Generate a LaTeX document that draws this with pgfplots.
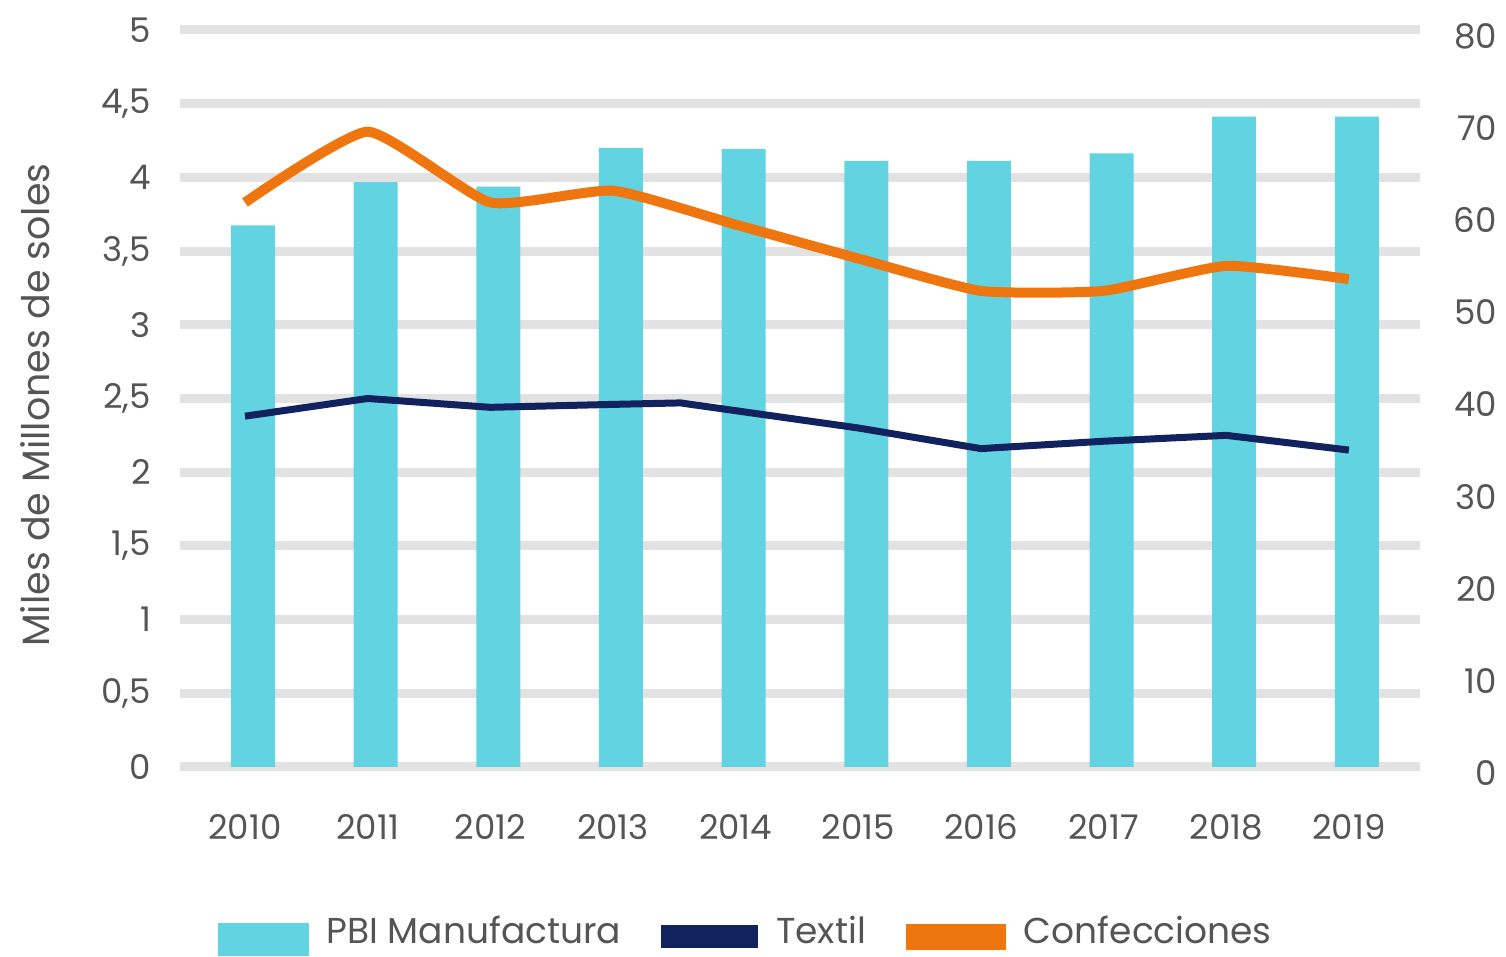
\documentclass[border=0pt]{standalone}
\usepackage{pgfplots}
\pgfplotsset{compat=1.18}
\usepackage{fontspec}
\setmainfont{Poppins}
\definecolor{barc}{HTML}{62D3E0}
\definecolor{navy}{HTML}{12225F}
\definecolor{orng}{HTML}{EF760E}
\definecolor{gridc}{HTML}{E2E2E2}
\definecolor{txt}{HTML}{555555}
\begin{document}
\begin{tikzpicture}
\useasboundingbox (-90pt,-95pt) rectangle (663pt,383.5pt);
% axis 1: grid, left ticks, x ticks
\begin{axis}[
  scale only axis, width=620pt, height=368.5pt,
  xmin=-0.53, xmax=9.58, ymin=0, ymax=5,
  axis line style={draw=none}, major tick length=0pt,
  ytick={0,0.5,1,1.5,2,2.5,3,3.5,4,4.5,5},
  yticklabels={0,{0,5},1,{1,5},2,{2,5},3,{3,5},4,{4,5},5},
  ymajorgrids, grid style={gridc, line width=4.5pt},
  xtick={0,...,9},
  xticklabels={2010,2011,2012,2013,2014,2015,2016,2017,2018,2019},
  tick label style={font=\fontsize{17pt}{20pt}\selectfont, text=txt},
  yticklabel style={xshift=-11pt},
  xticklabel style={yshift=-20pt},
  ylabel={Miles de Millones de soles},
  ylabel style={at={(axis description cs:-0.117,0.491)}, anchor=center, font=\fontsize{19pt}{22pt}\selectfont, text=txt},
]
\end{axis}
% axis 2: bars on right axis
\begin{axis}[
  scale only axis, width=620pt, height=368.5pt,
  xmin=-0.53, xmax=9.58, ymin=0, ymax=80,
  axis y line*=right, axis x line=none,
  axis line style={draw=none}, major tick length=0pt,
  ytick={0,10,20,30,40,50,60,70,80},
  /pgf/number format/assume math mode=true,
  yticklabel style={anchor=east, xshift=42pt, yshift=-3pt, font=\fontsize{17pt}{20pt}\selectfont, text=txt},
]
\addplot[ybar, bar width=22pt, bar shift=4pt, fill=barc, draw=none] coordinates {
(0,58.8) (1,63.5) (2,63.0) (3,67.2) (4,67.1) (5,65.8) (6,65.8) (7,66.6) (8,70.6) (9,70.6)};
\end{axis}
% axis 3: lines on left scale
\begin{axis}[
  scale only axis, width=620pt, height=368.5pt,
  xmin=-0.53, xmax=9.58, ymin=0, ymax=5,
  hide axis,
  legend columns=3,
  legend style={draw=none, fill=none, at={(axis description cs:0.457,-0.226)}, anchor=center,
    font=\fontsize{18pt}{21pt}\selectfont, text=txt,
    /tikz/every odd column/.append style={column sep=7pt},
    /tikz/every even column/.append style={column sep=18pt}},
]
\addlegendimage{legend image code/.code={\fill[barc] (0pt,-12pt) rectangle (45pt,4pt);}}
\addlegendentry{PBI Manufactura}
\addplot[navy, line width=3.5pt, legend image code/.code={\fill[navy] (0pt,-7pt) rectangle (45pt,1pt);}] coordinates {
(0,2.38) (1,2.50) (2,2.44) (3,2.46) (3.55,2.47) (5,2.30) (6,2.16) (7,2.21) (8,2.25) (9,2.15)};
\addlegendentry{Textil}
\addplot[orng, line width=5pt, smooth, tension=0.3, legend image code/.code={\fill[orng] (0pt,-7pt) rectangle (45pt,1pt);}] coordinates {
(0,3.83) (1,4.31) (2,3.83) (3,3.91) (4,3.68) (5,3.45) (6,3.23) (7,3.23) (8,3.40) (9,3.31)};
\addlegendentry{Confecciones}
\end{axis}
\end{tikzpicture}
\end{document}
